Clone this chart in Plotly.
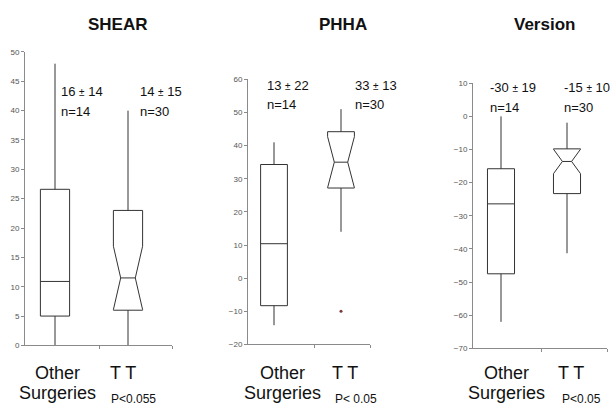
import plotly.graph_objects as go

# ---------------- data ----------------
groups = ["Other Surgeries", "TT"]
panels = ["SHEAR", "PHHA", "Version"]

shear_q1 = [5.0, 6.0]
shear_med = [10.9, 11.5]
shear_q3 = [26.6, 23.0]
shear_lo = [0.0, 0.0]
shear_hi = [48.0, 40.0]
shear_notch = 5.4

phha_q1 = [-8.3, 27.2]
phha_med = [10.4, 35.0]
phha_q3 = [34.3, 44.2]
phha_lo = [-14.2, 14.0]
phha_hi = [41.0, 51.0]
phha_notch = 7.7
phha_outlier_tt = [-10.0]

ver_q1 = [-47.5, -23.3]
ver_med = [-26.4, -13.6]
ver_q3 = [-15.8, -9.8]
ver_lo = [-62.0, -41.3]
ver_hi = [0.0, -1.9]
ver_notch = 3.7

means = [["16", "14"], ["13", "33"], ["-30", "-15"]]
sds = [["14", "15"], ["22", "13"], ["19", "10"]]
n_labels = ["n=14", "n=30"]
p_labels = ["P<0.055", "P< 0.05", "P<0.05"]

# ---------------- layout helpers ----------------
W, H = 613, 415
FONT = "Liberation Sans, Arial, sans-serif"
LINE = "#333333"
AX = "#8a8a8a"

def px(x):
    return x / W

def py(y):
    return 1 - y / H

fig = go.Figure()

stats = [
    (shear_q1, shear_med, shear_q3, shear_lo, shear_hi, shear_notch, 0.25),
    (phha_q1, phha_med, phha_q3, phha_lo, phha_hi, phha_notch, 0.25),
    (ver_q1, ver_med, ver_q3, ver_lo, ver_hi, ver_notch, 0.33),
]
box_w = [0.40, 0.40, 0.41]

for i, (q1, med, q3, lo, hi, notch, nw) in enumerate(stats):
    xa = "x" if i == 0 else f"x{i+1}"
    ya = "y" if i == 0 else f"y{i+1}"
    for j in range(2):
        kw = {}
        if j == 1:
            kw = dict(notched=True, notchspan=[notch], notchwidth=nw)
        fig.add_trace(go.Box(
            x=[j], q1=[q1[j]], median=[med[j]], q3=[q3[j]],
            lowerfence=[lo[j]], upperfence=[hi[j]],
            width=box_w[i], whiskerwidth=0,
            line=dict(color=LINE, width=1), fillcolor="rgba(255,255,255,0)",
            boxpoints=False, showlegend=False, hoverinfo="skip",
            xaxis=xa, yaxis=ya, name=groups[j], **kw))

fig.add_trace(go.Scatter(
    x=[1], y=phha_outlier_tt, mode="markers",
    marker=dict(color="#7a3a3a", size=3), showlegend=False,
    xaxis="x2", yaxis="y2"))

# axis geometry (pixels)
geo = [
    dict(x0=25, x1=172, c0=55, c1=128, ytop=49, ybot=349, yr=[0, 50], dt=5),
    dict(x0=248, x1=370, c0=274, c1=341, ytop=77, ybot=348, yr=[-20, 60], dt=10),
    dict(x0=473, x1=607, c0=501, c1=567, ytop=81, ybot=352, yr=[-70, 10], dt=10),
]

layout = dict(
    width=W, height=H, margin=dict(l=0, r=0, t=0, b=0),
    paper_bgcolor="white", plot_bgcolor="rgba(0,0,0,0)",
    showlegend=False, font=dict(family=FONT, color="#111"),
)

for i, g in enumerate(geo):
    unit = g["c1"] - g["c0"]
    xr0 = -(g["c0"] - g["x0"]) / unit
    xr1 = 1 + (g["x1"] - g["c1"]) / unit
    sfx = "" if i == 0 else str(i + 1)
    layout["xaxis" + sfx] = dict(
        domain=[px(g["x0"]), px(g["x1"])], range=[xr0, xr1],
        anchor="y" + sfx, showline=True, linecolor=AX, linewidth=1,
        ticks="outside", ticklen=3, tickcolor=AX,
        tickvals=[0.61, xr1], showticklabels=False,
        showgrid=False, zeroline=False, fixedrange=True)
    layout["yaxis" + sfx] = dict(
        domain=[py(g["ybot"]), py(g["ytop"])], range=g["yr"],
        anchor="x" + sfx, showline=True, linecolor=AX, linewidth=1,
        ticks="outside", ticklen=3, tickcolor=AX, dtick=g["dt"],
        tickfont=dict(size=8, color="#555", family=FONT),
        showgrid=False, zeroline=False, fixedrange=True)

fig.update_layout(**layout)

# ---------------- text ----------------
anns = []
def add(text, x, y, size, xanchor="center", bold=False, color="#111"):
    if bold:
        text = "<b>" + text + "</b>"
    anns.append(dict(text=text, x=px(x), y=py(y), xref="paper", yref="paper",
                     xanchor=xanchor, yanchor="middle", showarrow=False,
                     font=dict(size=size, family=FONT, color=color)))

title_pos = [(118, 21), (343, 21), (544, 21)]
for t, (x, y) in zip(panels, title_pos):
    add(t, x, y, 17, bold=True)

stat_pos = [
    [(59, 89, 110), (138, 89, 110)],
    [(265, 83, 103), (353, 83, 103)],
    [(488, 85, 106), (562, 85, 106)],
]
for i in range(3):
    for j in range(2):
        sx, sy, ny = stat_pos[i][j]
        txt = means[i][j] + " <span style='font-size:10px'>\u00b1</span> " + sds[i][j]
        add(txt, sx, sy, 13, xanchor="left")
        add(n_labels[j], sx, ny, 13, xanchor="left")

cat_pos = [(57, 123, 133), (282, 345, 356), (506, 571, 581)]
for i, (xo, xt, xp) in enumerate(cat_pos):
    add("Other", xo, 377, 18)
    add("Surgeries", xo, 398, 18)
    add("T T", xt, 377, 18)
    add(p_labels[i], xp, 404, 12)

fig.update_layout(annotations=anns)
fig.write_html("out.html", config={"displayModeBar": False},
               post_script="document.body.style.margin='0px';document.body.style.overflow='hidden';")
